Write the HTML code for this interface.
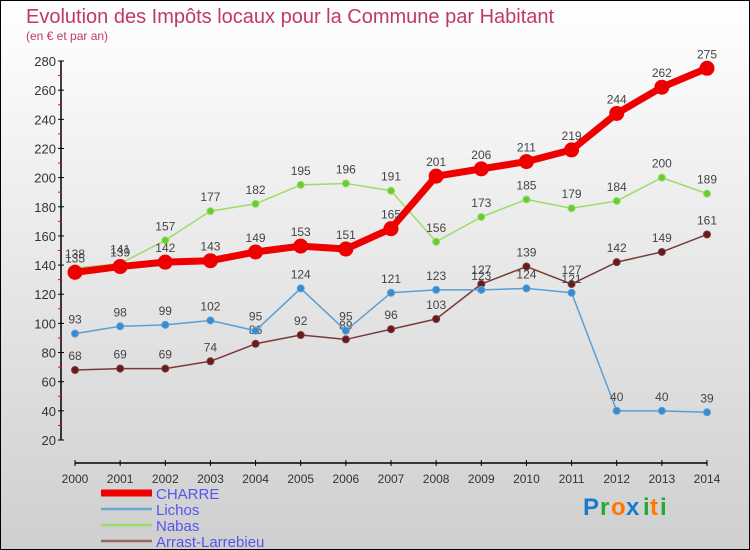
<!DOCTYPE html>
<html><head><meta charset="utf-8">
<style>
html,body{margin:0;padding:0}
body{width:750px;height:550px;overflow:hidden;font-family:"Liberation Sans",sans-serif}
#wrap{position:relative;width:748px;height:548px;border:1px solid #000;background:linear-gradient(#ffffff,#cfcfcf)}
svg{position:absolute;left:0;top:0}
</style></head>
<body>
<div id="wrap">
<svg id="chart" width="748" height="548">
<text x="25" y="22" font-size="20" fill="#c0386a">Evolution des Impôts locaux pour la Commune par Habitant</text>
<text x="25" y="39" font-size="12" fill="#c0386a">(en € et par an)</text>
</svg>
</div>
<script>
const years=[2000,2001,2002,2003,2004,2005,2006,2007,2008,2009,2010,2011,2012,2013,2014];
const yTicks=[20,40,60,80,100,120,140,160,180,200,220,240,260,280];
const charre=[135,139,142,143,149,153,151,165,201,206,211,219,244,262,275];
const lichos=[93,98,99,102,95,124,95,121,123,123,124,121,40,40,39];
const nabas=[138,141,157,177,182,195,196,191,156,173,185,179,184,200,189];
const arrast=[68,69,69,74,86,92,89,96,103,127,139,127,142,149,161];

const svg=document.getElementById('chart');
const NS='http://www.w3.org/2000/svg';
const X0=74,X1=706,Y0=439,Y1=60,VMIN=20,VMAX=280;
function xs(i){return X0+(X1-X0)*i/(years.length-1);}
function ys(v){return Y0-(v-VMIN)*(Y0-Y1)/(VMAX-VMIN);}
function mk(tag,attrs){const e=document.createElementNS(NS,tag);for(const k in attrs)e.setAttribute(k,attrs[k]);svg.appendChild(e);return e;}

// y axis
let ya=mk('line',{x1:60,y1:ys(280),x2:60,y2:ys(20),stroke:'#000','stroke-width':1.5});


yTicks.forEach((v,i)=>{
  let t=mk('line',{x1:57,y1:ys(v),x2:63,y2:ys(v),stroke:'#000'});
  
  
  if(i<yTicks.length-1){
    let m=mk('line',{x1:57,y1:ys(v+10),x2:60,y2:ys(v+10),stroke:'#f00'});
    
    
  }
  let l=mk('text',{x:55,y:ys(v)+5,'font-size':13,fill:'#333','text-anchor':'end'});
  l.textContent=v;
  
  
});
// x axis
let xa=mk('line',{x1:X0,y1:462,x2:X1,y2:462,stroke:'#000','stroke-width':1.5});


years.forEach((y,i)=>{
  let t=mk('line',{x1:xs(i),y1:459,x2:xs(i),y2:465,stroke:'#000'});
  
  
  let l=mk('text',{x:xs(i),y:482,'font-size':12,fill:'#333','text-anchor':'middle'});
  l.textContent=y;
  
  
});

function series(data,name,color,dot,w,r){
  const pts=data.map((v,i)=>xs(i)+','+ys(v)).join(' ');
  let p=mk('polyline',{points:pts,fill:'none',stroke:color,'stroke-width':w,'stroke-linejoin':'round'});
  
  
  data.forEach((v,i)=>{
    let c=mk('circle',{cx:xs(i),cy:ys(v),r:r,fill:dot,stroke:color,'stroke-width':1});
    
    
  });
  data.forEach((v,i)=>{
    let t=mk('text',{x:xs(i),y:ys(v)-10,'font-size':12,fill:'#444','text-anchor':'middle'});
    t.textContent=v;
    
    
  });
}
series(arrast,'arrast-larrebieu','#7a3a3a','#6a1a1a',1.5,3.5);
series(lichos,'lichos','#5a9fd4','#3a8ad0',1.5,3.5);
series(nabas,'nabas','#99dd66','#66cc33',1.5,3.5);
series(charre,'charre','#ee0000','#ee0000',7,7);

// legend
const legend=[['CHARRE','#ee0000',7],['Lichos','#6aa6d6',2.5],['Nabas','#99dd66',2.5],['Arrast-Larrebieu','#996666',2.5]];
legend.forEach((L,i)=>{
  const y=492+i*16;
  let s=mk('line',{x1:100,y1:y,x2:151,y2:y,stroke:L[1],'stroke-width':L[2]});
  
  
  let t=mk('text',{x:155,y:y+6,'font-size':15,fill:'#5555ee'});
  t.textContent=L[0];
  
  
});
// logo
const logo=[['P','#1a7ad0'],['r','#22aa33'],['o','#ff7700'],['x','#1a7ad0'],['i','#22aa33'],['t','#ff7700'],['i','#22aa33']];
let lx=582;
const lw=[17,11,15,17,7,10,7];
logo.forEach((c,i)=>{
  let t=mk('text',{x:lx,y:514,'font-size':24,'font-weight':'bold',fill:c[1]});
  t.textContent=c[0];
  
  
  lx+=lw[i];
});
</script>
</body></html>
